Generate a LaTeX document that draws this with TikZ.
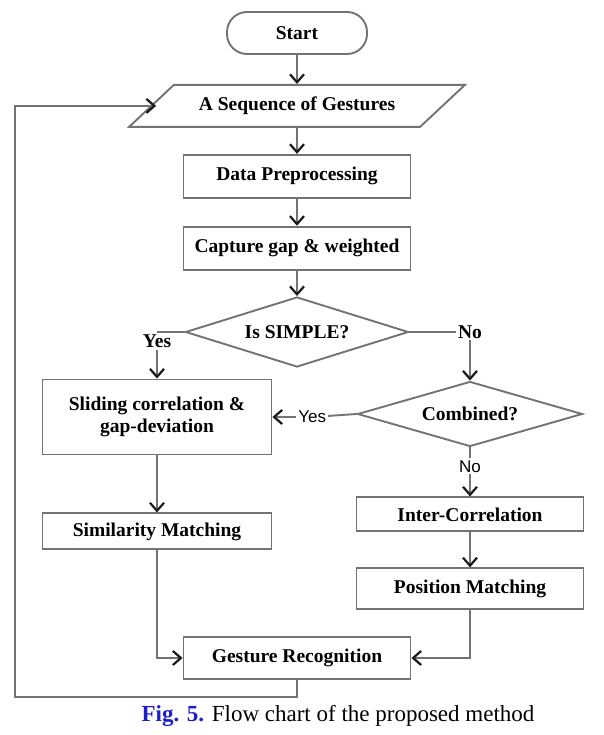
\documentclass[tikz,border=0pt]{standalone}
\usepackage{fontspec}
\setmainfont{Liberation Serif}
\setsansfont{Liberation Sans}
\usepackage{xcolor}
\usetikzlibrary{positioning,arrows.meta,shapes.geometric,calc}
\definecolor{figblue}{RGB}{30,30,200}
\definecolor{linegray}{RGB}{115,115,115}

\begin{document}
\begin{tikzpicture}[
  x=1pt,y=-1pt,
  font=\fontsize{19.5}{22}\selectfont\bfseries,
  every path/.style={draw=linegray,line width=1.9pt},
  box/.style={draw,align=center,minimum width=227pt,minimum height=43pt,inner sep=2pt},
  term/.style={draw,rounded corners=20pt,minimum width=140pt,minimum height=42pt},
  io/.style={draw,trapezium,trapezium left angle=26.6,trapezium right angle=153.4,
    trapezium stretches=true,minimum width=337pt,minimum height=42pt,inner sep=0pt},
  dec/.style={draw,diamond,aspect=3.2,minimum width=223pt,minimum height=70pt,inner sep=0pt},
  lbl/.style={inner sep=1pt},
  slbl/.style={inner sep=1pt,font=\fontsize{17}{20}\selectfont\sffamily},
  >={Straight Barb[length=8pt,width=14pt,line width=2.2pt,color=black!90]}
]
  \path[use as bounding box,draw=none] (0,0) rectangle (604,735);
  % main column
  \node[term] (start) at (297,33) {Start};
  \node[io,below=29pt of start] (seq) {A Sequence of Gestures};
  \node[box,below=26pt of seq,minimum height=43pt] (prep) {Data Preprocessing};
  \node[box,below=27pt of prep] (gap) {Capture gap \& weighted};
  \node[dec] (simple) at (297,332) {Is SIMPLE?};
  % branches
  \node[box,minimum width=229pt,minimum height=75pt] (slide) at (157,417) {Sliding correlation \&\\gap-deviation};
  \node[dec,minimum width=225pt,minimum height=65pt] (comb) at (470,414) {Combined?};
  \node[box,minimum width=229pt,minimum height=36pt,below=57pt of slide] (sim) {Similarity Matching};
  \node[box,minimum height=34pt,below=49pt of comb] (inter) {Inter-Correlation};
  \node[box,minimum height=41pt,below=35pt of inter] (pos) {Position Matching};
  \node[box,minimum height=42pt] (rec) at (297,658) {Gesture Recognition};
  % labels
  \coordinate (c1) at (simple.west -| slide.north);
  \node[lbl,below=1pt of c1] (yes1) {Yes};
  \node[lbl] (no1) at (simple.east -| comb.north) {No};
  \node[slbl,right=24pt of slide] (yes2) {Yes};
  \node[slbl,below=11pt of comb] (no2) {No};
  \coordinate (loop) at (15,697);
  % connectors
  \draw[->] (start) -- (seq);
  \draw[->] (seq) -- (prep);
  \draw[->] (prep) -- (gap);
  \draw[->] (gap) -- (simple);
  \draw (simple.west) -- (c1);
  \draw[->] (yes1) -- (slide);
  \draw (simple.east) -- (no1);
  \draw[->] (no1) -- (comb);
  \draw (comb.west) -- (yes2);
  \draw[->] (yes2) -- (slide);
  \draw (comb.south) -- (no2);
  \draw[->] (no2) -- (inter);
  \draw[->] (slide) -- (sim);
  \draw[->] (inter) -- (pos);
  \draw[->] (sim) |- (rec);
  \draw[->] (pos) |- (rec);
  \draw[->] (rec.south) |- (loop) |- ($(seq.west)+(6pt,0)$);
  % caption
  \node[font=\fontsize{23}{26}\selectfont] (cap) at (338,716)
    {\textcolor{figblue}{\bfseries Fig. 5.} \mdseries Flow chart of the proposed method};
\end{tikzpicture}
\end{document}
